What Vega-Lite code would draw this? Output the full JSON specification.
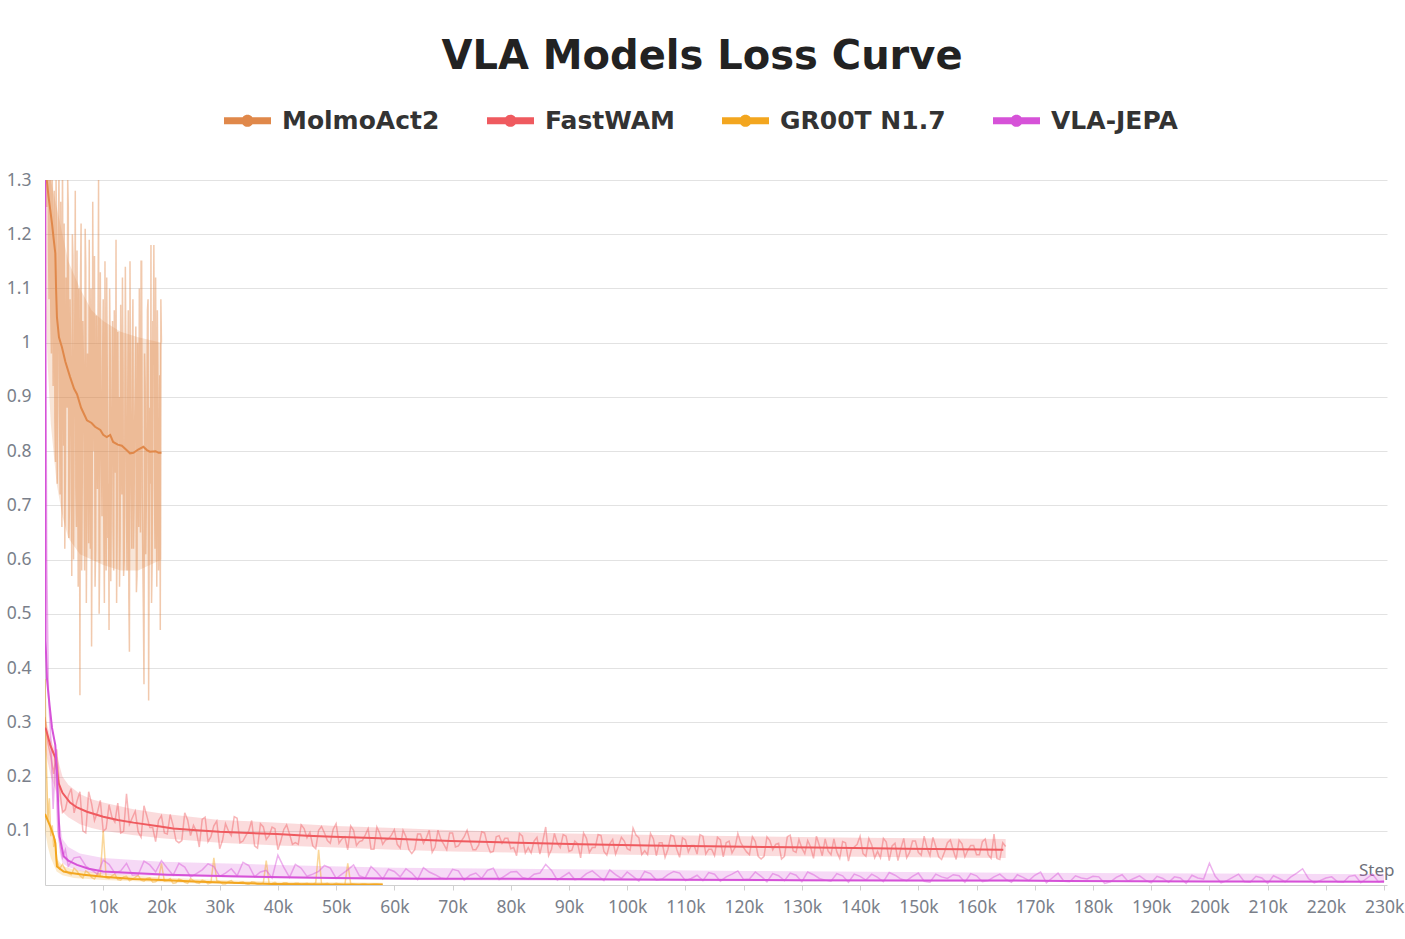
{
  "$schema": "https://vega.github.io/schema/vega-lite/v6.json",
  "width": 1342,
  "height": 705,
  "autosize": {"type": "none"},
  "padding": {"left": 45, "top": 180, "right": 18, "bottom": 54},
  "background": "white",
  "title": {
    "text": "VLA Models Loss Curve",
    "font": "DejaVu Sans",
    "fontSize": 40,
    "fontWeight": "bold",
    "color": "#222222",
    "anchor": "middle",
    "frame": "group",
    "dx": -14,
    "offset": 20
  },
  "config": {
    "view": {"stroke": null},
    "axis": {"labelFont": "Noto Sans", "titleFont": "Noto Sans"}
  },
  "datasets": {
    "band": [
      {"model":"MolmoAct2","step":0,"lo":1.1,"hi":1.3},{"model":"MolmoAct2","step":500,"lo":0.95,"hi":1.3},{"model":"MolmoAct2","step":1000,"lo":0.85,"hi":1.3},{"model":"MolmoAct2","step":2000,"lo":0.74,"hi":1.25},{"model":"MolmoAct2","step":3000,"lo":0.68,"hi":1.2},{"model":"MolmoAct2","step":4000,"lo":0.64,"hi":1.15},{"model":"MolmoAct2","step":6000,"lo":0.61,"hi":1.1},{"model":"MolmoAct2","step":8000,"lo":0.6,"hi":1.06},{"model":"MolmoAct2","step":10000,"lo":0.59,"hi":1.04},{"model":"MolmoAct2","step":13000,"lo":0.58,"hi":1.02},{"model":"MolmoAct2","step":16000,"lo":0.58,"hi":1.01},{"model":"MolmoAct2","step":20000,"lo":0.6,"hi":1.0},
      {"model":"FastWAM","step":0,"lo":0.25,"hi":0.31},{"model":"FastWAM","step":1000,"lo":0.2,"hi":0.27},{"model":"FastWAM","step":2000,"lo":0.17,"hi":0.24},{"model":"FastWAM","step":3000,"lo":0.135,"hi":0.2},{"model":"FastWAM","step":4000,"lo":0.125,"hi":0.185},{"model":"FastWAM","step":6000,"lo":0.112,"hi":0.168},{"model":"FastWAM","step":8000,"lo":0.105,"hi":0.158},{"model":"FastWAM","step":10000,"lo":0.1,"hi":0.152},{"model":"FastWAM","step":15000,"lo":0.092,"hi":0.14},{"model":"FastWAM","step":20000,"lo":0.086,"hi":0.132},
      {"model":"FastWAM","step":30000,"lo":0.078,"hi":0.12},{"model":"FastWAM","step":40000,"lo":0.073,"hi":0.115},{"model":"FastWAM","step":50000,"lo":0.069,"hi":0.109},{"model":"FastWAM","step":60000,"lo":0.065,"hi":0.105},{"model":"FastWAM","step":70000,"lo":0.062,"hi":0.101},{"model":"FastWAM","step":80000,"lo":0.06,"hi":0.098},{"model":"FastWAM","step":90000,"lo":0.058,"hi":0.095},{"model":"FastWAM","step":100000,"lo":0.056,"hi":0.093},{"model":"FastWAM","step":120000,"lo":0.054,"hi":0.09},{"model":"FastWAM","step":140000,"lo":0.052,"hi":0.087},{"model":"FastWAM","step":165000,"lo":0.05,"hi":0.085},
      {"model":"GR00T N1.7","step":0,"lo":0.1,"hi":0.3},{"model":"GR00T N1.7","step":500,"lo":0.07,"hi":0.16},{"model":"GR00T N1.7","step":1000,"lo":0.05,"hi":0.1},{"model":"GR00T N1.7","step":2000,"lo":0.025,"hi":0.05},{"model":"GR00T N1.7","step":3000,"lo":0.018,"hi":0.035},{"model":"GR00T N1.7","step":5000,"lo":0.013,"hi":0.028},{"model":"GR00T N1.7","step":10000,"lo":0.009,"hi":0.021},{"model":"GR00T N1.7","step":20000,"lo":0.005,"hi":0.014},{"model":"GR00T N1.7","step":30000,"lo":0.002,"hi":0.009},{"model":"GR00T N1.7","step":40000,"lo":0.001,"hi":0.006},{"model":"GR00T N1.7","step":58000,"lo":0.0,"hi":0.004},
      {"model":"VLA-JEPA","step":2500,"lo":0.06,"hi":0.12},{"model":"VLA-JEPA","step":3000,"lo":0.04,"hi":0.085},{"model":"VLA-JEPA","step":4000,"lo":0.033,"hi":0.07},{"model":"VLA-JEPA","step":6000,"lo":0.026,"hi":0.058},{"model":"VLA-JEPA","step":10000,"lo":0.02,"hi":0.05},{"model":"VLA-JEPA","step":20000,"lo":0.016,"hi":0.043},{"model":"VLA-JEPA","step":40000,"lo":0.012,"hi":0.037},{"model":"VLA-JEPA","step":60000,"lo":0.009,"hi":0.032},{"model":"VLA-JEPA","step":90000,"lo":0.008,"hi":0.029},{"model":"VLA-JEPA","step":120000,"lo":0.007,"hi":0.026},{"model":"VLA-JEPA","step":160000,"lo":0.006,"hi":0.023},{"model":"VLA-JEPA","step":200000,"lo":0.005,"hi":0.021},{"model":"VLA-JEPA","step":230000,"lo":0.005,"hi":0.02}
    ],
    "raw": [
      {"model":"MolmoAct2","step":0,"loss":1.62},{"model":"MolmoAct2","step":200,"loss":1.38},{"model":"MolmoAct2","step":400,"loss":1.55},{"model":"MolmoAct2","step":600,"loss":1.18},{"model":"MolmoAct2","step":800,"loss":1.42},{"model":"MolmoAct2","step":1000,"loss":1.05},{"model":"MolmoAct2","step":1200,"loss":1.36},{"model":"MolmoAct2","step":1400,"loss":0.92},{"model":"MolmoAct2","step":1600,"loss":1.28},{"model":"MolmoAct2","step":1800,"loss":0.78},
      {"model":"MolmoAct2","step":2000,"loss":1.21},{"model":"MolmoAct2","step":2200,"loss":0.95},{"model":"MolmoAct2","step":2400,"loss":1.33},{"model":"MolmoAct2","step":2600,"loss":0.72},{"model":"MolmoAct2","step":2800,"loss":1.08},{"model":"MolmoAct2","step":3000,"loss":1.35},{"model":"MolmoAct2","step":3200,"loss":0.81},{"model":"MolmoAct2","step":3400,"loss":0.62},{"model":"MolmoAct2","step":3600,"loss":1.12},{"model":"MolmoAct2","step":3800,"loss":0.88},
      {"model":"MolmoAct2","step":4000,"loss":1.25},{"model":"MolmoAct2","step":4200,"loss":0.70},{"model":"MolmoAct2","step":4400,"loss":0.98},{"model":"MolmoAct2","step":4600,"loss":0.57},{"model":"MolmoAct2","step":4800,"loss":1.16},{"model":"MolmoAct2","step":5000,"loss":0.84},{"model":"MolmoAct2","step":5200,"loss":1.28},{"model":"MolmoAct2","step":5400,"loss":0.66},{"model":"MolmoAct2","step":5600,"loss":0.92},{"model":"MolmoAct2","step":5800,"loss":1.10},
      {"model":"MolmoAct2","step":6000,"loss":0.35},{"model":"MolmoAct2","step":6200,"loss":1.22},{"model":"MolmoAct2","step":6400,"loss":0.75},{"model":"MolmoAct2","step":6600,"loss":0.96},{"model":"MolmoAct2","step":6800,"loss":0.58},{"model":"MolmoAct2","step":7000,"loss":1.14},{"model":"MolmoAct2","step":7200,"loss":0.69},{"model":"MolmoAct2","step":7400,"loss":0.90},{"model":"MolmoAct2","step":7600,"loss":1.19},{"model":"MolmoAct2","step":7800,"loss":0.62},
      {"model":"MolmoAct2","step":8000,"loss":0.44},{"model":"MolmoAct2","step":8200,"loss":1.26},{"model":"MolmoAct2","step":8400,"loss":0.80},{"model":"MolmoAct2","step":8600,"loss":0.55},{"model":"MolmoAct2","step":8800,"loss":1.05},{"model":"MolmoAct2","step":9000,"loss":0.73},{"model":"MolmoAct2","step":9200,"loss":1.30},{"model":"MolmoAct2","step":9400,"loss":0.60},{"model":"MolmoAct2","step":9600,"loss":0.94},{"model":"MolmoAct2","step":9800,"loss":0.68},
      {"model":"MolmoAct2","step":10000,"loss":1.08},{"model":"MolmoAct2","step":10200,"loss":0.52},{"model":"MolmoAct2","step":10400,"loss":0.86},{"model":"MolmoAct2","step":10600,"loss":1.12},{"model":"MolmoAct2","step":10800,"loss":0.64},{"model":"MolmoAct2","step":11000,"loss":0.47},{"model":"MolmoAct2","step":11200,"loss":0.99},{"model":"MolmoAct2","step":11400,"loss":0.76},{"model":"MolmoAct2","step":11600,"loss":1.04},{"model":"MolmoAct2","step":11800,"loss":0.58},
      {"model":"MolmoAct2","step":12000,"loss":0.90},{"model":"MolmoAct2","step":12200,"loss":1.19},{"model":"MolmoAct2","step":12400,"loss":0.66},{"model":"MolmoAct2","step":12600,"loss":0.82},{"model":"MolmoAct2","step":12800,"loss":0.55},{"model":"MolmoAct2","step":13000,"loss":1.07},{"model":"MolmoAct2","step":13200,"loss":0.72},{"model":"MolmoAct2","step":13400,"loss":0.95},{"model":"MolmoAct2","step":13600,"loss":0.60},{"model":"MolmoAct2","step":13800,"loss":1.14},
      {"model":"MolmoAct2","step":14000,"loss":0.68},{"model":"MolmoAct2","step":14200,"loss":0.88},{"model":"MolmoAct2","step":14400,"loss":0.53},{"model":"MolmoAct2","step":14600,"loss":1.15},{"model":"MolmoAct2","step":14800,"loss":0.74},{"model":"MolmoAct2","step":15000,"loss":0.98},{"model":"MolmoAct2","step":15200,"loss":0.62},{"model":"MolmoAct2","step":15400,"loss":0.85},{"model":"MolmoAct2","step":15600,"loss":1.03},{"model":"MolmoAct2","step":15800,"loss":0.57},
      {"model":"MolmoAct2","step":16000,"loss":0.79},{"model":"MolmoAct2","step":16200,"loss":1.10},{"model":"MolmoAct2","step":16400,"loss":0.65},{"model":"MolmoAct2","step":16600,"loss":1.15},{"model":"MolmoAct2","step":16800,"loss":0.60},{"model":"MolmoAct2","step":17000,"loss":0.37},{"model":"MolmoAct2","step":17200,"loss":0.92},{"model":"MolmoAct2","step":17400,"loss":0.70},{"model":"MolmoAct2","step":17600,"loss":1.06},{"model":"MolmoAct2","step":17800,"loss":0.34},
      {"model":"MolmoAct2","step":18000,"loss":0.88},{"model":"MolmoAct2","step":18200,"loss":1.18},{"model":"MolmoAct2","step":18400,"loss":0.59},{"model":"MolmoAct2","step":18600,"loss":0.96},{"model":"MolmoAct2","step":18800,"loss":0.73},{"model":"MolmoAct2","step":19000,"loss":1.12},{"model":"MolmoAct2","step":19200,"loss":0.55},{"model":"MolmoAct2","step":19400,"loss":0.90},{"model":"MolmoAct2","step":19600,"loss":0.64},{"model":"MolmoAct2","step":19800,"loss":0.47},{"model":"MolmoAct2","step":20000,"loss":1.0},
      {"model":"MolmoAct2","step":100,"loss":1.45},{"model":"MolmoAct2","step":300,"loss":1.25},{"model":"MolmoAct2","step":500,"loss":1.48},{"model":"MolmoAct2","step":700,"loss":1.08},{"model":"MolmoAct2","step":900,"loss":1.32},{"model":"MolmoAct2","step":1100,"loss":0.98},{"model":"MolmoAct2","step":1300,"loss":1.24},{"model":"MolmoAct2","step":1500,"loss":1.15},{"model":"MolmoAct2","step":1700,"loss":0.86},{"model":"MolmoAct2","step":1900,"loss":1.30},
      {"model":"MolmoAct2","step":2100,"loss":0.74},{"model":"MolmoAct2","step":2300,"loss":1.18},{"model":"MolmoAct2","step":2500,"loss":0.88},{"model":"MolmoAct2","step":2700,"loss":1.26},{"model":"MolmoAct2","step":2900,"loss":0.66},{"model":"MolmoAct2","step":3100,"loss":1.05},{"model":"MolmoAct2","step":3300,"loss":1.22},{"model":"MolmoAct2","step":3500,"loss":0.76},{"model":"MolmoAct2","step":3700,"loss":0.96},{"model":"MolmoAct2","step":3900,"loss":1.30},
      {"model":"MolmoAct2","step":4100,"loss":0.64},{"model":"MolmoAct2","step":4300,"loss":1.08},{"model":"MolmoAct2","step":4500,"loss":0.82},{"model":"MolmoAct2","step":4700,"loss":1.20},{"model":"MolmoAct2","step":4900,"loss":0.60},{"model":"MolmoAct2","step":5100,"loss":1.00},{"model":"MolmoAct2","step":5300,"loss":0.73},{"model":"MolmoAct2","step":5500,"loss":1.17},{"model":"MolmoAct2","step":5700,"loss":0.55},{"model":"MolmoAct2","step":5900,"loss":0.88},
      {"model":"MolmoAct2","step":6100,"loss":1.12},{"model":"MolmoAct2","step":6300,"loss":0.58},{"model":"MolmoAct2","step":6500,"loss":1.04},{"model":"MolmoAct2","step":6700,"loss":0.82},{"model":"MolmoAct2","step":6900,"loss":1.21},{"model":"MolmoAct2","step":7100,"loss":0.52},{"model":"MolmoAct2","step":7300,"loss":0.98},{"model":"MolmoAct2","step":7500,"loss":0.63},{"model":"MolmoAct2","step":7700,"loss":0.86},{"model":"MolmoAct2","step":7900,"loss":1.10},
      {"model":"MolmoAct2","step":8100,"loss":0.70},{"model":"MolmoAct2","step":8300,"loss":0.95},{"model":"MolmoAct2","step":8500,"loss":1.16},{"model":"MolmoAct2","step":8700,"loss":0.62},{"model":"MolmoAct2","step":8900,"loss":0.88},{"model":"MolmoAct2","step":9100,"loss":1.02},{"model":"MolmoAct2","step":9300,"loss":0.50},{"model":"MolmoAct2","step":9500,"loss":1.13},{"model":"MolmoAct2","step":9700,"loss":0.78},{"model":"MolmoAct2","step":9900,"loss":0.97},
      {"model":"MolmoAct2","step":10100,"loss":0.66},{"model":"MolmoAct2","step":10300,"loss":1.15},{"model":"MolmoAct2","step":10500,"loss":0.58},{"model":"MolmoAct2","step":10700,"loss":0.93},{"model":"MolmoAct2","step":10900,"loss":0.74},{"model":"MolmoAct2","step":11100,"loss":1.10},{"model":"MolmoAct2","step":11300,"loss":0.56},{"model":"MolmoAct2","step":11500,"loss":0.90},{"model":"MolmoAct2","step":11700,"loss":0.66},{"model":"MolmoAct2","step":11900,"loss":1.06},
      {"model":"MolmoAct2","step":12100,"loss":0.76},{"model":"MolmoAct2","step":12300,"loss":0.52},{"model":"MolmoAct2","step":12500,"loss":1.02},{"model":"MolmoAct2","step":12700,"loss":0.90},{"model":"MolmoAct2","step":12900,"loss":0.64},{"model":"MolmoAct2","step":13100,"loss":0.85},{"model":"MolmoAct2","step":13300,"loss":1.12},{"model":"MolmoAct2","step":13500,"loss":0.57},{"model":"MolmoAct2","step":13700,"loss":0.80},{"model":"MolmoAct2","step":13900,"loss":0.96},
      {"model":"MolmoAct2","step":14100,"loss":0.58},{"model":"MolmoAct2","step":14300,"loss":1.06},{"model":"MolmoAct2","step":14500,"loss":0.43},{"model":"MolmoAct2","step":14700,"loss":0.88},{"model":"MolmoAct2","step":14900,"loss":0.62},{"model":"MolmoAct2","step":15100,"loss":1.08},{"model":"MolmoAct2","step":15300,"loss":0.70},{"model":"MolmoAct2","step":15500,"loss":0.92},{"model":"MolmoAct2","step":15700,"loss":0.54},{"model":"MolmoAct2","step":15900,"loss":1.00},
      {"model":"MolmoAct2","step":16100,"loss":0.66},{"model":"MolmoAct2","step":16300,"loss":0.84},{"model":"MolmoAct2","step":16500,"loss":1.15},{"model":"MolmoAct2","step":16700,"loss":0.72},{"model":"MolmoAct2","step":16900,"loss":0.50},{"model":"MolmoAct2","step":17100,"loss":0.98},{"model":"MolmoAct2","step":17300,"loss":0.61},{"model":"MolmoAct2","step":17500,"loss":0.86},{"model":"MolmoAct2","step":17700,"loss":1.08},{"model":"MolmoAct2","step":17900,"loss":0.64},
      {"model":"MolmoAct2","step":18100,"loss":0.74},{"model":"MolmoAct2","step":18300,"loss":0.52},{"model":"MolmoAct2","step":18500,"loss":1.04},{"model":"MolmoAct2","step":18700,"loss":1.18},{"model":"MolmoAct2","step":18900,"loss":0.62},{"model":"MolmoAct2","step":19100,"loss":0.84},{"model":"MolmoAct2","step":19300,"loss":1.06},{"model":"MolmoAct2","step":19500,"loss":0.58},{"model":"MolmoAct2","step":19700,"loss":0.94},{"model":"MolmoAct2","step":19900,"loss":1.08},

      {"model":"FastWAM","step":0,"loss":0.31},{"model":"FastWAM","step":500,"loss":0.262},{"model":"FastWAM","step":1000,"loss":0.237},{"model":"FastWAM","step":1500,"loss":0.205},{"model":"FastWAM","step":2000,"loss":0.25},{"model":"FastWAM","step":2500,"loss":0.178},{"model":"FastWAM","step":3000,"loss":0.134},{"model":"FastWAM","step":4000,"loss":0.164},{"model":"FastWAM","step":5000,"loss":0.133},{"model":"FastWAM","step":6000,"loss":0.172},{"model":"FastWAM","step":7000,"loss":0.096},{"model":"FastWAM","step":8000,"loss":0.15},{"model":"FastWAM","step":9000,"loss":0.134},
      {"model":"FastWAM","step":10000,"loss":0.099},{"model":"FastWAM","step":11000,"loss":0.148},{"model":"FastWAM","step":12000,"loss":0.116},{"model":"FastWAM","step":13000,"loss":0.096},{"model":"FastWAM","step":14000,"loss":0.168},{"model":"FastWAM","step":15000,"loss":0.124},{"model":"FastWAM","step":16000,"loss":0.098},{"model":"FastWAM","step":17000,"loss":0.146},{"model":"FastWAM","step":18000,"loss":0.106},{"model":"FastWAM","step":19000,"loss":0.08},
      {"model":"FastWAM","step":20000,"loss":0.128},{"model":"FastWAM","step":21000,"loss":0.094},{"model":"FastWAM","step":22000,"loss":0.11},{"model":"FastWAM","step":23000,"loss":0.078},{"model":"FastWAM","step":24000,"loss":0.133},{"model":"FastWAM","step":25000,"loss":0.091},{"model":"FastWAM","step":26000,"loss":0.099},{"model":"FastWAM","step":27000,"loss":0.121},{"model":"FastWAM","step":28000,"loss":0.08},{"model":"FastWAM","step":29000,"loss":0.109},
      {"model":"FastWAM","step":30000,"loss":0.067},{"model":"FastWAM","step":31000,"loss":0.113},{"model":"FastWAM","step":32000,"loss":0.091},{"model":"FastWAM","step":33000,"loss":0.123},{"model":"FastWAM","step":34000,"loss":0.081},{"model":"FastWAM","step":35000,"loss":0.1},{"model":"FastWAM","step":36000,"loss":0.072},{"model":"FastWAM","step":37000,"loss":0.113},{"model":"FastWAM","step":38000,"loss":0.084},{"model":"FastWAM","step":39000,"loss":0.107},
      {"model":"FastWAM","step":40000,"loss":0.065},{"model":"FastWAM","step":41000,"loss":0.102},{"model":"FastWAM","step":42000,"loss":0.094},{"model":"FastWAM","step":43000,"loss":0.078},{"model":"FastWAM","step":44000,"loss":0.111},{"model":"FastWAM","step":45000,"loss":0.087},{"model":"FastWAM","step":46000,"loss":0.072},{"model":"FastWAM","step":47000,"loss":0.101},{"model":"FastWAM","step":48000,"loss":0.096},{"model":"FastWAM","step":49000,"loss":0.077},
      {"model":"FastWAM","step":50000,"loss":0.113},{"model":"FastWAM","step":51000,"loss":0.085},{"model":"FastWAM","step":52000,"loss":0.065},{"model":"FastWAM","step":53000,"loss":0.101},{"model":"FastWAM","step":54000,"loss":0.08},{"model":"FastWAM","step":55000,"loss":0.092},{"model":"FastWAM","step":56000,"loss":0.066},{"model":"FastWAM","step":57000,"loss":0.107},{"model":"FastWAM","step":58000,"loss":0.075},{"model":"FastWAM","step":59000,"loss":0.085},
      {"model":"FastWAM","step":60000,"loss":0.102},{"model":"FastWAM","step":61000,"loss":0.068},{"model":"FastWAM","step":62000,"loss":0.089},{"model":"FastWAM","step":63000,"loss":0.058},{"model":"FastWAM","step":64000,"loss":0.094},{"model":"FastWAM","step":65000,"loss":0.077},{"model":"FastWAM","step":66000,"loss":0.101},{"model":"FastWAM","step":67000,"loss":0.07},{"model":"FastWAM","step":68000,"loss":0.084},{"model":"FastWAM","step":69000,"loss":0.065},
      {"model":"FastWAM","step":70000,"loss":0.096},{"model":"FastWAM","step":71000,"loss":0.072},{"model":"FastWAM","step":72000,"loss":0.089},{"model":"FastWAM","step":73000,"loss":0.081},{"model":"FastWAM","step":74000,"loss":0.065},{"model":"FastWAM","step":75000,"loss":0.098},{"model":"FastWAM","step":76000,"loss":0.074},{"model":"FastWAM","step":77000,"loss":0.062},{"model":"FastWAM","step":78000,"loss":0.091},{"model":"FastWAM","step":79000,"loss":0.086},
      {"model":"FastWAM","step":80000,"loss":0.067},{"model":"FastWAM","step":81000,"loss":0.054},{"model":"FastWAM","step":82000,"loss":0.09},{"model":"FastWAM","step":83000,"loss":0.069},{"model":"FastWAM","step":84000,"loss":0.081},{"model":"FastWAM","step":85000,"loss":0.057},{"model":"FastWAM","step":86000,"loss":0.107},{"model":"FastWAM","step":87000,"loss":0.066},{"model":"FastWAM","step":88000,"loss":0.077},{"model":"FastWAM","step":89000,"loss":0.093},
      {"model":"FastWAM","step":90000,"loss":0.062},{"model":"FastWAM","step":91000,"loss":0.081},{"model":"FastWAM","step":92000,"loss":0.05},{"model":"FastWAM","step":93000,"loss":0.086},{"model":"FastWAM","step":94000,"loss":0.069},{"model":"FastWAM","step":95000,"loss":0.093},{"model":"FastWAM","step":96000,"loss":0.062},{"model":"FastWAM","step":97000,"loss":0.076},{"model":"FastWAM","step":98000,"loss":0.057},{"model":"FastWAM","step":99000,"loss":0.088},
      {"model":"FastWAM","step":100000,"loss":0.067},{"model":"FastWAM","step":101000,"loss":0.105},{"model":"FastWAM","step":102000,"loss":0.087},{"model":"FastWAM","step":103000,"loss":0.063},{"model":"FastWAM","step":104000,"loss":0.095},{"model":"FastWAM","step":105000,"loss":0.054},{"model":"FastWAM","step":106000,"loss":0.078},{"model":"FastWAM","step":107000,"loss":0.066},{"model":"FastWAM","step":108000,"loss":0.09},{"model":"FastWAM","step":109000,"loss":0.051},
      {"model":"FastWAM","step":110000,"loss":0.083},{"model":"FastWAM","step":111000,"loss":0.073},{"model":"FastWAM","step":112000,"loss":0.057},{"model":"FastWAM","step":113000,"loss":0.09},{"model":"FastWAM","step":114000,"loss":0.066},{"model":"FastWAM","step":115000,"loss":0.054},{"model":"FastWAM","step":116000,"loss":0.083},{"model":"FastWAM","step":117000,"loss":0.078},{"model":"FastWAM","step":118000,"loss":0.059},{"model":"FastWAM","step":119000,"loss":0.095},
      {"model":"FastWAM","step":120000,"loss":0.069},{"model":"FastWAM","step":121000,"loss":0.056},{"model":"FastWAM","step":122000,"loss":0.08},{"model":"FastWAM","step":123000,"loss":0.048},{"model":"FastWAM","step":124000,"loss":0.089},{"model":"FastWAM","step":125000,"loss":0.065},{"model":"FastWAM","step":126000,"loss":0.077},{"model":"FastWAM","step":127000,"loss":0.053},{"model":"FastWAM","step":128000,"loss":0.092},{"model":"FastWAM","step":129000,"loss":0.06},
      {"model":"FastWAM","step":130000,"loss":0.068},{"model":"FastWAM","step":131000,"loss":0.082},{"model":"FastWAM","step":132000,"loss":0.049},{"model":"FastWAM","step":133000,"loss":0.073},{"model":"FastWAM","step":134000,"loss":0.085},{"model":"FastWAM","step":135000,"loss":0.056},{"model":"FastWAM","step":136000,"loss":0.061},{"model":"FastWAM","step":137000,"loss":0.08},{"model":"FastWAM","step":138000,"loss":0.044},{"model":"FastWAM","step":139000,"loss":0.07},
      {"model":"FastWAM","step":140000,"loss":0.09},{"model":"FastWAM","step":141000,"loss":0.053},{"model":"FastWAM","step":142000,"loss":0.074},{"model":"FastWAM","step":143000,"loss":0.062},{"model":"FastWAM","step":144000,"loss":0.086},{"model":"FastWAM","step":145000,"loss":0.045},{"model":"FastWAM","step":146000,"loss":0.077},{"model":"FastWAM","step":147000,"loss":0.067},{"model":"FastWAM","step":148000,"loss":0.05},{"model":"FastWAM","step":149000,"loss":0.081},
      {"model":"FastWAM","step":150000,"loss":0.06},{"model":"FastWAM","step":151000,"loss":0.09},{"model":"FastWAM","step":152000,"loss":0.054},{"model":"FastWAM","step":153000,"loss":0.071},{"model":"FastWAM","step":154000,"loss":0.047},{"model":"FastWAM","step":155000,"loss":0.078},{"model":"FastWAM","step":156000,"loss":0.064},{"model":"FastWAM","step":157000,"loss":0.083},{"model":"FastWAM","step":158000,"loss":0.052},{"model":"FastWAM","step":159000,"loss":0.073},
      {"model":"FastWAM","step":160000,"loss":0.056},{"model":"FastWAM","step":161000,"loss":0.08},{"model":"FastWAM","step":162000,"loss":0.056},{"model":"FastWAM","step":163000,"loss":0.094},{"model":"FastWAM","step":164000,"loss":0.047},{"model":"FastWAM","step":165000,"loss":0.071},
      {"model":"FastWAM","step":3500,"loss":0.139},{"model":"FastWAM","step":4500,"loss":0.178},{"model":"FastWAM","step":5500,"loss":0.155},{"model":"FastWAM","step":6500,"loss":0.1},{"model":"FastWAM","step":7500,"loss":0.172},{"model":"FastWAM","step":8500,"loss":0.119},{"model":"FastWAM","step":9500,"loss":0.156},{"model":"FastWAM","step":10500,"loss":0.104},{"model":"FastWAM","step":11500,"loss":0.125},{"model":"FastWAM","step":12500,"loss":0.151},
      {"model":"FastWAM","step":13500,"loss":0.099},{"model":"FastWAM","step":14500,"loss":0.112},{"model":"FastWAM","step":15500,"loss":0.136},{"model":"FastWAM","step":16500,"loss":0.088},{"model":"FastWAM","step":17500,"loss":0.127},{"model":"FastWAM","step":18500,"loss":0.106},{"model":"FastWAM","step":19500,"loss":0.119},{"model":"FastWAM","step":20500,"loss":0.096},{"model":"FastWAM","step":21500,"loss":0.13},{"model":"FastWAM","step":22500,"loss":0.082},
      {"model":"FastWAM","step":23500,"loss":0.082},{"model":"FastWAM","step":24500,"loss":0.12},{"model":"FastWAM","step":25500,"loss":0.11},{"model":"FastWAM","step":26500,"loss":0.07},{"model":"FastWAM","step":27500,"loss":0.125},{"model":"FastWAM","step":28500,"loss":0.089},{"model":"FastWAM","step":29500,"loss":0.118},{"model":"FastWAM","step":30500,"loss":0.083},{"model":"FastWAM","step":31500,"loss":0.1},{"model":"FastWAM","step":32500,"loss":0.126},
      {"model":"FastWAM","step":33500,"loss":0.078},{"model":"FastWAM","step":34500,"loss":0.091},{"model":"FastWAM","step":35500,"loss":0.119},{"model":"FastWAM","step":36500,"loss":0.068},{"model":"FastWAM","step":37500,"loss":0.107},{"model":"FastWAM","step":38500,"loss":0.091},{"model":"FastWAM","step":39500,"loss":0.104},{"model":"FastWAM","step":40500,"loss":0.081},{"model":"FastWAM","step":41500,"loss":0.111},{"model":"FastWAM","step":42500,"loss":0.075},
      {"model":"FastWAM","step":43500,"loss":0.075},{"model":"FastWAM","step":44500,"loss":0.104},{"model":"FastWAM","step":45500,"loss":0.097},{"model":"FastWAM","step":46500,"loss":0.067},{"model":"FastWAM","step":47500,"loss":0.108},{"model":"FastWAM","step":48500,"loss":0.082},{"model":"FastWAM","step":49500,"loss":0.103},{"model":"FastWAM","step":50500,"loss":0.077},{"model":"FastWAM","step":51500,"loss":0.089},{"model":"FastWAM","step":52500,"loss":0.109},
      {"model":"FastWAM","step":53500,"loss":0.073},{"model":"FastWAM","step":54500,"loss":0.082},{"model":"FastWAM","step":55500,"loss":0.104},{"model":"FastWAM","step":56500,"loss":0.066},{"model":"FastWAM","step":57500,"loss":0.095},{"model":"FastWAM","step":58500,"loss":0.083},{"model":"FastWAM","step":59500,"loss":0.092},{"model":"FastWAM","step":60500,"loss":0.075},{"model":"FastWAM","step":61500,"loss":0.101},{"model":"FastWAM","step":62500,"loss":0.065},
      {"model":"FastWAM","step":63500,"loss":0.065},{"model":"FastWAM","step":64500,"loss":0.094},{"model":"FastWAM","step":65500,"loss":0.087},{"model":"FastWAM","step":66500,"loss":0.06},{"model":"FastWAM","step":67500,"loss":0.101},{"model":"FastWAM","step":68500,"loss":0.075},{"model":"FastWAM","step":69500,"loss":0.096},{"model":"FastWAM","step":70500,"loss":0.07},{"model":"FastWAM","step":71500,"loss":0.081},{"model":"FastWAM","step":72500,"loss":0.101},
      {"model":"FastWAM","step":73500,"loss":0.065},{"model":"FastWAM","step":74500,"loss":0.074},{"model":"FastWAM","step":75500,"loss":0.096},{"model":"FastWAM","step":76500,"loss":0.06},{"model":"FastWAM","step":77500,"loss":0.089},{"model":"FastWAM","step":78500,"loss":0.077},{"model":"FastWAM","step":79500,"loss":0.086},{"model":"FastWAM","step":80500,"loss":0.069},{"model":"FastWAM","step":81500,"loss":0.095},{"model":"FastWAM","step":82500,"loss":0.059},
      {"model":"FastWAM","step":83500,"loss":0.059},{"model":"FastWAM","step":84500,"loss":0.088},{"model":"FastWAM","step":85500,"loss":0.081},{"model":"FastWAM","step":86500,"loss":0.054},{"model":"FastWAM","step":87500,"loss":0.095},{"model":"FastWAM","step":88500,"loss":0.069},{"model":"FastWAM","step":89500,"loss":0.09},{"model":"FastWAM","step":90500,"loss":0.064},{"model":"FastWAM","step":91500,"loss":0.076},{"model":"FastWAM","step":92500,"loss":0.096},
      {"model":"FastWAM","step":93500,"loss":0.06},{"model":"FastWAM","step":94500,"loss":0.069},{"model":"FastWAM","step":95500,"loss":0.091},{"model":"FastWAM","step":96500,"loss":0.055},{"model":"FastWAM","step":97500,"loss":0.084},{"model":"FastWAM","step":98500,"loss":0.072},{"model":"FastWAM","step":99500,"loss":0.081},{"model":"FastWAM","step":100500,"loss":0.064},{"model":"FastWAM","step":101500,"loss":0.092},{"model":"FastWAM","step":102500,"loss":0.056},
      {"model":"FastWAM","step":103500,"loss":0.056},{"model":"FastWAM","step":104500,"loss":0.085},{"model":"FastWAM","step":105500,"loss":0.078},{"model":"FastWAM","step":106500,"loss":0.051},{"model":"FastWAM","step":107500,"loss":0.092},{"model":"FastWAM","step":108500,"loss":0.066},{"model":"FastWAM","step":109500,"loss":0.087},{"model":"FastWAM","step":110500,"loss":0.061},{"model":"FastWAM","step":111500,"loss":0.073},{"model":"FastWAM","step":112500,"loss":0.093},
      {"model":"FastWAM","step":113500,"loss":0.057},{"model":"FastWAM","step":114500,"loss":0.066},{"model":"FastWAM","step":115500,"loss":0.088},{"model":"FastWAM","step":116500,"loss":0.052},{"model":"FastWAM","step":117500,"loss":0.081},{"model":"FastWAM","step":118500,"loss":0.069},{"model":"FastWAM","step":119500,"loss":0.078},{"model":"FastWAM","step":120500,"loss":0.061},{"model":"FastWAM","step":121500,"loss":0.089},{"model":"FastWAM","step":122500,"loss":0.053},
      {"model":"FastWAM","step":123500,"loss":0.053},{"model":"FastWAM","step":124500,"loss":0.082},{"model":"FastWAM","step":125500,"loss":0.075},{"model":"FastWAM","step":126500,"loss":0.048},{"model":"FastWAM","step":127500,"loss":0.089},{"model":"FastWAM","step":128500,"loss":0.063},{"model":"FastWAM","step":129500,"loss":0.084},{"model":"FastWAM","step":130500,"loss":0.058},{"model":"FastWAM","step":131500,"loss":0.07},{"model":"FastWAM","step":132500,"loss":0.09},
      {"model":"FastWAM","step":133500,"loss":0.054},{"model":"FastWAM","step":134500,"loss":0.063},{"model":"FastWAM","step":135500,"loss":0.085},{"model":"FastWAM","step":136500,"loss":0.049},{"model":"FastWAM","step":137500,"loss":0.078},{"model":"FastWAM","step":138500,"loss":0.066},{"model":"FastWAM","step":139500,"loss":0.075},{"model":"FastWAM","step":140500,"loss":0.058},{"model":"FastWAM","step":141500,"loss":0.086},{"model":"FastWAM","step":142500,"loss":0.05},
      {"model":"FastWAM","step":143500,"loss":0.05},{"model":"FastWAM","step":144500,"loss":0.079},{"model":"FastWAM","step":145500,"loss":0.072},{"model":"FastWAM","step":146500,"loss":0.045},{"model":"FastWAM","step":147500,"loss":0.086},{"model":"FastWAM","step":148500,"loss":0.06},{"model":"FastWAM","step":149500,"loss":0.081},{"model":"FastWAM","step":150500,"loss":0.055},{"model":"FastWAM","step":151500,"loss":0.068},{"model":"FastWAM","step":152500,"loss":0.088},
      {"model":"FastWAM","step":153500,"loss":0.052},{"model":"FastWAM","step":154500,"loss":0.061},{"model":"FastWAM","step":155500,"loss":0.083},{"model":"FastWAM","step":156500,"loss":0.047},{"model":"FastWAM","step":157500,"loss":0.076},{"model":"FastWAM","step":158500,"loss":0.064},{"model":"FastWAM","step":159500,"loss":0.073},{"model":"FastWAM","step":160500,"loss":0.056},{"model":"FastWAM","step":161500,"loss":0.085},{"model":"FastWAM","step":162500,"loss":0.049},
      {"model":"FastWAM","step":163500,"loss":0.049},{"model":"FastWAM","step":164500,"loss":0.078},

      {"model":"GR00T N1.7","step":0,"loss":0.38},{"model":"GR00T N1.7","step":250,"loss":0.22},{"model":"GR00T N1.7","step":500,"loss":0.12},{"model":"GR00T N1.7","step":750,"loss":0.16},{"model":"GR00T N1.7","step":1000,"loss":0.09},{"model":"GR00T N1.7","step":1250,"loss":0.11},{"model":"GR00T N1.7","step":1500,"loss":0.07},{"model":"GR00T N1.7","step":1750,"loss":0.085},{"model":"GR00T N1.7","step":2000,"loss":0.045},{"model":"GR00T N1.7","step":2500,"loss":0.03},{"model":"GR00T N1.7","step":3000,"loss":0.038},
      {"model":"GR00T N1.7","step":4000,"loss":0.022},{"model":"GR00T N1.7","step":5000,"loss":0.031},{"model":"GR00T N1.7","step":6000,"loss":0.017},{"model":"GR00T N1.7","step":7000,"loss":0.026},{"model":"GR00T N1.7","step":8000,"loss":0.014},{"model":"GR00T N1.7","step":9000,"loss":0.021},{"model":"GR00T N1.7","step":10000,"loss":0.1},{"model":"GR00T N1.7","step":11000,"loss":0.012},{"model":"GR00T N1.7","step":12000,"loss":0.02},{"model":"GR00T N1.7","step":13000,"loss":0.009},
      {"model":"GR00T N1.7","step":14000,"loss":0.016},{"model":"GR00T N1.7","step":15000,"loss":0.011},{"model":"GR00T N1.7","step":16000,"loss":0.018},{"model":"GR00T N1.7","step":17000,"loss":0.007},{"model":"GR00T N1.7","step":18000,"loss":0.013},{"model":"GR00T N1.7","step":19000,"loss":0.006},{"model":"GR00T N1.7","step":20000,"loss":0.04},{"model":"GR00T N1.7","step":21000,"loss":0.008},{"model":"GR00T N1.7","step":22000,"loss":0.003},{"model":"GR00T N1.7","step":23000,"loss":0.011},
      {"model":"GR00T N1.7","step":24000,"loss":0.005},{"model":"GR00T N1.7","step":25000,"loss":0.012},{"model":"GR00T N1.7","step":26000,"loss":0.004},{"model":"GR00T N1.7","step":27000,"loss":0.009},{"model":"GR00T N1.7","step":28000,"loss":0.002},{"model":"GR00T N1.7","step":29000,"loss":0.05},{"model":"GR00T N1.7","step":30000,"loss":0.006},{"model":"GR00T N1.7","step":31000,"loss":0.002},{"model":"GR00T N1.7","step":32000,"loss":0.008},{"model":"GR00T N1.7","step":33000,"loss":0.003},
      {"model":"GR00T N1.7","step":34000,"loss":0.006},{"model":"GR00T N1.7","step":35000,"loss":0.001},{"model":"GR00T N1.7","step":36000,"loss":0.005},{"model":"GR00T N1.7","step":37000,"loss":0.002},{"model":"GR00T N1.7","step":38000,"loss":0.045},{"model":"GR00T N1.7","step":39000,"loss":0.003},{"model":"GR00T N1.7","step":40000,"loss":0.001},{"model":"GR00T N1.7","step":41000,"loss":0.004},{"model":"GR00T N1.7","step":42000,"loss":0.001},{"model":"GR00T N1.7","step":43000,"loss":0.003},
      {"model":"GR00T N1.7","step":44000,"loss":0.0},{"model":"GR00T N1.7","step":45000,"loss":0.003},{"model":"GR00T N1.7","step":46000,"loss":0.001},{"model":"GR00T N1.7","step":47000,"loss":0.065},{"model":"GR00T N1.7","step":48000,"loss":0.002},{"model":"GR00T N1.7","step":49000,"loss":0.0},{"model":"GR00T N1.7","step":50000,"loss":0.003},{"model":"GR00T N1.7","step":51000,"loss":0.001},{"model":"GR00T N1.7","step":52000,"loss":0.04},{"model":"GR00T N1.7","step":53000,"loss":0.002},
      {"model":"GR00T N1.7","step":54000,"loss":0.0},{"model":"GR00T N1.7","step":55000,"loss":0.002},{"model":"GR00T N1.7","step":56000,"loss":0.001},{"model":"GR00T N1.7","step":57000,"loss":0.002},{"model":"GR00T N1.7","step":58000,"loss":0.001},
      {"model":"GR00T N1.7","step":3500,"loss":0.028},{"model":"GR00T N1.7","step":4500,"loss":0.019},{"model":"GR00T N1.7","step":5500,"loss":0.026},{"model":"GR00T N1.7","step":6500,"loss":0.013},{"model":"GR00T N1.7","step":7500,"loss":0.022},{"model":"GR00T N1.7","step":8500,"loss":0.011},{"model":"GR00T N1.7","step":9500,"loss":0.018},{"model":"GR00T N1.7","step":10500,"loss":0.013},{"model":"GR00T N1.7","step":11500,"loss":0.017},{"model":"GR00T N1.7","step":12500,"loss":0.01},
      {"model":"GR00T N1.7","step":13500,"loss":0.015},{"model":"GR00T N1.7","step":14500,"loss":0.008},{"model":"GR00T N1.7","step":15500,"loss":0.014},{"model":"GR00T N1.7","step":16500,"loss":0.009},{"model":"GR00T N1.7","step":17500,"loss":0.012},{"model":"GR00T N1.7","step":18500,"loss":0.005},{"model":"GR00T N1.7","step":19500,"loss":0.011},{"model":"GR00T N1.7","step":20500,"loss":0.007},{"model":"GR00T N1.7","step":21500,"loss":0.012},{"model":"GR00T N1.7","step":22500,"loss":0.004},
      {"model":"GR00T N1.7","step":23500,"loss":0.009},{"model":"GR00T N1.7","step":24500,"loss":0.003},{"model":"GR00T N1.7","step":25500,"loss":0.008},{"model":"GR00T N1.7","step":26500,"loss":0.003},{"model":"GR00T N1.7","step":27500,"loss":0.007},{"model":"GR00T N1.7","step":28500,"loss":0.004},{"model":"GR00T N1.7","step":29500,"loss":0.008},{"model":"GR00T N1.7","step":30500,"loss":0.002},{"model":"GR00T N1.7","step":31500,"loss":0.006},{"model":"GR00T N1.7","step":32500,"loss":0.003},
      {"model":"GR00T N1.7","step":33500,"loss":0.005},{"model":"GR00T N1.7","step":34500,"loss":0.002},{"model":"GR00T N1.7","step":35500,"loss":0.006},{"model":"GR00T N1.7","step":36500,"loss":0.001},{"model":"GR00T N1.7","step":37500,"loss":0.004},{"model":"GR00T N1.7","step":38500,"loss":0.002},{"model":"GR00T N1.7","step":39500,"loss":0.005},{"model":"GR00T N1.7","step":40500,"loss":0.001},{"model":"GR00T N1.7","step":41500,"loss":0.004},{"model":"GR00T N1.7","step":42500,"loss":0.001},
      {"model":"GR00T N1.7","step":43500,"loss":0.003},{"model":"GR00T N1.7","step":44500,"loss":0.002},{"model":"GR00T N1.7","step":45500,"loss":0.001},{"model":"GR00T N1.7","step":46500,"loss":0.004},{"model":"GR00T N1.7","step":47500,"loss":0.001},{"model":"GR00T N1.7","step":48500,"loss":0.003},{"model":"GR00T N1.7","step":49500,"loss":0.001},{"model":"GR00T N1.7","step":50500,"loss":0.002},{"model":"GR00T N1.7","step":51500,"loss":0.0},{"model":"GR00T N1.7","step":52500,"loss":0.003},
      {"model":"GR00T N1.7","step":53500,"loss":0.001},{"model":"GR00T N1.7","step":54500,"loss":0.002},{"model":"GR00T N1.7","step":55500,"loss":0.0},{"model":"GR00T N1.7","step":56500,"loss":0.002},{"model":"GR00T N1.7","step":57500,"loss":0.001},

      {"model":"VLA-JEPA","step":0,"loss":2.0},{"model":"VLA-JEPA","step":100,"loss":1.1},{"model":"VLA-JEPA","step":300,"loss":0.6},{"model":"VLA-JEPA","step":600,"loss":0.35},{"model":"VLA-JEPA","step":1000,"loss":0.27},{"model":"VLA-JEPA","step":1400,"loss":0.14},{"model":"VLA-JEPA","step":1800,"loss":0.24},{"model":"VLA-JEPA","step":2200,"loss":0.10},{"model":"VLA-JEPA","step":2600,"loss":0.07},{"model":"VLA-JEPA","step":3000,"loss":0.05},{"model":"VLA-JEPA","step":3500,"loss":0.065},{"model":"VLA-JEPA","step":4000,"loss":0.035},{"model":"VLA-JEPA","step":5000,"loss":0.05},
      {"model":"VLA-JEPA","step":6000,"loss":0.052},{"model":"VLA-JEPA","step":8000,"loss":0.028},{"model":"VLA-JEPA","step":10000,"loss":0.046},{"model":"VLA-JEPA","step":12000,"loss":0.022},{"model":"VLA-JEPA","step":14000,"loss":0.04},{"model":"VLA-JEPA","step":16000,"loss":0.019},{"model":"VLA-JEPA","step":18000,"loss":0.037},{"model":"VLA-JEPA","step":20000,"loss":0.045},{"model":"VLA-JEPA","step":22000,"loss":0.018},{"model":"VLA-JEPA","step":24000,"loss":0.033},
      {"model":"VLA-JEPA","step":26000,"loss":0.021},{"model":"VLA-JEPA","step":28000,"loss":0.039},{"model":"VLA-JEPA","step":30000,"loss":0.016},{"model":"VLA-JEPA","step":32000,"loss":0.03},{"model":"VLA-JEPA","step":34000,"loss":0.042},{"model":"VLA-JEPA","step":36000,"loss":0.015},{"model":"VLA-JEPA","step":38000,"loss":0.027},{"model":"VLA-JEPA","step":40000,"loss":0.055},{"model":"VLA-JEPA","step":42000,"loss":0.014},{"model":"VLA-JEPA","step":44000,"loss":0.031},
      {"model":"VLA-JEPA","step":46000,"loss":0.02},{"model":"VLA-JEPA","step":48000,"loss":0.036},{"model":"VLA-JEPA","step":50000,"loss":0.012},{"model":"VLA-JEPA","step":52000,"loss":0.028},{"model":"VLA-JEPA","step":54000,"loss":0.017},{"model":"VLA-JEPA","step":56000,"loss":0.034},{"model":"VLA-JEPA","step":58000,"loss":0.011},{"model":"VLA-JEPA","step":60000,"loss":0.025},{"model":"VLA-JEPA","step":62000,"loss":0.03},{"model":"VLA-JEPA","step":64000,"loss":0.01},
      {"model":"VLA-JEPA","step":66000,"loss":0.024},{"model":"VLA-JEPA","step":68000,"loss":0.013},{"model":"VLA-JEPA","step":70000,"loss":0.029},{"model":"VLA-JEPA","step":72000,"loss":0.009},{"model":"VLA-JEPA","step":74000,"loss":0.022},{"model":"VLA-JEPA","step":76000,"loss":0.027},{"model":"VLA-JEPA","step":78000,"loss":0.01},{"model":"VLA-JEPA","step":80000,"loss":0.024},{"model":"VLA-JEPA","step":82000,"loss":0.014},{"model":"VLA-JEPA","step":84000,"loss":0.02},
      {"model":"VLA-JEPA","step":86000,"loss":0.038},{"model":"VLA-JEPA","step":88000,"loss":0.009},{"model":"VLA-JEPA","step":90000,"loss":0.023},{"model":"VLA-JEPA","step":92000,"loss":0.012},{"model":"VLA-JEPA","step":94000,"loss":0.026},{"model":"VLA-JEPA","step":96000,"loss":0.008},{"model":"VLA-JEPA","step":98000,"loss":0.019},{"model":"VLA-JEPA","step":100000,"loss":0.024},{"model":"VLA-JEPA","step":102000,"loss":0.007},{"model":"VLA-JEPA","step":104000,"loss":0.021},
      {"model":"VLA-JEPA","step":106000,"loss":0.011},{"model":"VLA-JEPA","step":108000,"loss":0.025},{"model":"VLA-JEPA","step":110000,"loss":0.008},{"model":"VLA-JEPA","step":112000,"loss":0.018},{"model":"VLA-JEPA","step":114000,"loss":0.023},{"model":"VLA-JEPA","step":116000,"loss":0.007},{"model":"VLA-JEPA","step":118000,"loss":0.02},{"model":"VLA-JEPA","step":120000,"loss":0.01},{"model":"VLA-JEPA","step":122000,"loss":0.024},{"model":"VLA-JEPA","step":124000,"loss":0.006},
      {"model":"VLA-JEPA","step":126000,"loss":0.017},{"model":"VLA-JEPA","step":128000,"loss":0.022},{"model":"VLA-JEPA","step":130000,"loss":0.006},{"model":"VLA-JEPA","step":132000,"loss":0.019},{"model":"VLA-JEPA","step":134000,"loss":0.009},{"model":"VLA-JEPA","step":136000,"loss":0.021},{"model":"VLA-JEPA","step":138000,"loss":0.005},{"model":"VLA-JEPA","step":140000,"loss":0.016},{"model":"VLA-JEPA","step":142000,"loss":0.02},{"model":"VLA-JEPA","step":144000,"loss":0.006},
      {"model":"VLA-JEPA","step":146000,"loss":0.018},{"model":"VLA-JEPA","step":148000,"loss":0.008},{"model":"VLA-JEPA","step":150000,"loss":0.022},{"model":"VLA-JEPA","step":152000,"loss":0.005},{"model":"VLA-JEPA","step":154000,"loss":0.015},{"model":"VLA-JEPA","step":156000,"loss":0.019},{"model":"VLA-JEPA","step":158000,"loss":0.005},{"model":"VLA-JEPA","step":160000,"loss":0.017},{"model":"VLA-JEPA","step":162000,"loss":0.008},{"model":"VLA-JEPA","step":164000,"loss":0.02},
      {"model":"VLA-JEPA","step":166000,"loss":0.005},{"model":"VLA-JEPA","step":168000,"loss":0.014},{"model":"VLA-JEPA","step":170000,"loss":0.018},{"model":"VLA-JEPA","step":172000,"loss":0.004},{"model":"VLA-JEPA","step":174000,"loss":0.022},{"model":"VLA-JEPA","step":176000,"loss":0.006},{"model":"VLA-JEPA","step":178000,"loss":0.013},{"model":"VLA-JEPA","step":180000,"loss":0.016},{"model":"VLA-JEPA","step":182000,"loss":0.003},{"model":"VLA-JEPA","step":184000,"loss":0.014},
      {"model":"VLA-JEPA","step":186000,"loss":0.007},{"model":"VLA-JEPA","step":188000,"loss":0.017},{"model":"VLA-JEPA","step":190000,"loss":0.004},{"model":"VLA-JEPA","step":192000,"loss":0.012},{"model":"VLA-JEPA","step":194000,"loss":0.015},{"model":"VLA-JEPA","step":196000,"loss":0.003},{"model":"VLA-JEPA","step":198000,"loss":0.013},{"model":"VLA-JEPA","step":200000,"loss":0.04},{"model":"VLA-JEPA","step":202000,"loss":0.004},{"model":"VLA-JEPA","step":204000,"loss":0.014},
      {"model":"VLA-JEPA","step":206000,"loss":0.006},{"model":"VLA-JEPA","step":208000,"loss":0.016},{"model":"VLA-JEPA","step":210000,"loss":0.003},{"model":"VLA-JEPA","step":212000,"loss":0.012},{"model":"VLA-JEPA","step":214000,"loss":0.015},{"model":"VLA-JEPA","step":216000,"loss":0.03},{"model":"VLA-JEPA","step":218000,"loss":0.004},{"model":"VLA-JEPA","step":220000,"loss":0.013},{"model":"VLA-JEPA","step":222000,"loss":0.006},{"model":"VLA-JEPA","step":224000,"loss":0.016},
      {"model":"VLA-JEPA","step":226000,"loss":0.004},{"model":"VLA-JEPA","step":228000,"loss":0.02},{"model":"VLA-JEPA","step":230000,"loss":0.008},
      {"model":"VLA-JEPA","step":7000,"loss":0.035},{"model":"VLA-JEPA","step":9000,"loss":0.02},{"model":"VLA-JEPA","step":11000,"loss":0.038},{"model":"VLA-JEPA","step":13000,"loss":0.026},{"model":"VLA-JEPA","step":15000,"loss":0.018},{"model":"VLA-JEPA","step":17000,"loss":0.044},{"model":"VLA-JEPA","step":19000,"loss":0.024},{"model":"VLA-JEPA","step":21000,"loss":0.031},{"model":"VLA-JEPA","step":23000,"loss":0.04},{"model":"VLA-JEPA","step":25000,"loss":0.015},
      {"model":"VLA-JEPA","step":27000,"loss":0.028},{"model":"VLA-JEPA","step":29000,"loss":0.034},{"model":"VLA-JEPA","step":31000,"loss":0.022},{"model":"VLA-JEPA","step":33000,"loss":0.017},{"model":"VLA-JEPA","step":35000,"loss":0.036},{"model":"VLA-JEPA","step":37000,"loss":0.024},{"model":"VLA-JEPA","step":39000,"loss":0.013},{"model":"VLA-JEPA","step":41000,"loss":0.033},{"model":"VLA-JEPA","step":43000,"loss":0.038},{"model":"VLA-JEPA","step":45000,"loss":0.016},
      {"model":"VLA-JEPA","step":47000,"loss":0.025},{"model":"VLA-JEPA","step":49000,"loss":0.031},{"model":"VLA-JEPA","step":51000,"loss":0.02},{"model":"VLA-JEPA","step":53000,"loss":0.037},{"model":"VLA-JEPA","step":55000,"loss":0.013},{"model":"VLA-JEPA","step":57000,"loss":0.024},{"model":"VLA-JEPA","step":59000,"loss":0.029},{"model":"VLA-JEPA","step":61000,"loss":0.015},{"model":"VLA-JEPA","step":63000,"loss":0.022},{"model":"VLA-JEPA","step":65000,"loss":0.032},
      {"model":"VLA-JEPA","step":67000,"loss":0.019},{"model":"VLA-JEPA","step":69000,"loss":0.011},{"model":"VLA-JEPA","step":71000,"loss":0.026},{"model":"VLA-JEPA","step":73000,"loss":0.018},{"model":"VLA-JEPA","step":75000,"loss":0.012},{"model":"VLA-JEPA","step":77000,"loss":0.031},{"model":"VLA-JEPA","step":79000,"loss":0.017},{"model":"VLA-JEPA","step":81000,"loss":0.025},{"model":"VLA-JEPA","step":83000,"loss":0.011},{"model":"VLA-JEPA","step":85000,"loss":0.022},
      {"model":"VLA-JEPA","step":87000,"loss":0.027},{"model":"VLA-JEPA","step":89000,"loss":0.016},{"model":"VLA-JEPA","step":91000,"loss":0.01},{"model":"VLA-JEPA","step":93000,"loss":0.021},{"model":"VLA-JEPA","step":95000,"loss":0.017},{"model":"VLA-JEPA","step":97000,"loss":0.028},{"model":"VLA-JEPA","step":99000,"loss":0.012},{"model":"VLA-JEPA","step":101000,"loss":0.016},{"model":"VLA-JEPA","step":103000,"loss":0.025},{"model":"VLA-JEPA","step":105000,"loss":0.009},
      {"model":"VLA-JEPA","step":107000,"loss":0.019},{"model":"VLA-JEPA","step":109000,"loss":0.022},{"model":"VLA-JEPA","step":111000,"loss":0.012},{"model":"VLA-JEPA","step":113000,"loss":0.008},{"model":"VLA-JEPA","step":115000,"loss":0.02},{"model":"VLA-JEPA","step":117000,"loss":0.015},{"model":"VLA-JEPA","step":119000,"loss":0.026},{"model":"VLA-JEPA","step":121000,"loss":0.011},{"model":"VLA-JEPA","step":123000,"loss":0.016},{"model":"VLA-JEPA","step":125000,"loss":0.021},
      {"model":"VLA-JEPA","step":127000,"loss":0.008},{"model":"VLA-JEPA","step":129000,"loss":0.018},{"model":"VLA-JEPA","step":131000,"loss":0.024},{"model":"VLA-JEPA","step":133000,"loss":0.012},{"model":"VLA-JEPA","step":135000,"loss":0.007},{"model":"VLA-JEPA","step":137000,"loss":0.017},{"model":"VLA-JEPA","step":139000,"loss":0.02},{"model":"VLA-JEPA","step":141000,"loss":0.009},{"model":"VLA-JEPA","step":143000,"loss":0.014},{"model":"VLA-JEPA","step":145000,"loss":0.023},
      {"model":"VLA-JEPA","step":147000,"loss":0.011},{"model":"VLA-JEPA","step":149000,"loss":0.016},{"model":"VLA-JEPA","step":151000,"loss":0.007},{"model":"VLA-JEPA","step":153000,"loss":0.02},{"model":"VLA-JEPA","step":155000,"loss":0.012},{"model":"VLA-JEPA","step":157000,"loss":0.017},{"model":"VLA-JEPA","step":159000,"loss":0.021},{"model":"VLA-JEPA","step":161000,"loss":0.006},{"model":"VLA-JEPA","step":163000,"loss":0.015},{"model":"VLA-JEPA","step":165000,"loss":0.011},
      {"model":"VLA-JEPA","step":167000,"loss":0.019},{"model":"VLA-JEPA","step":169000,"loss":0.008},{"model":"VLA-JEPA","step":171000,"loss":0.024},{"model":"VLA-JEPA","step":173000,"loss":0.013},{"model":"VLA-JEPA","step":175000,"loss":0.007},{"model":"VLA-JEPA","step":177000,"loss":0.017},{"model":"VLA-JEPA","step":179000,"loss":0.011},{"model":"VLA-JEPA","step":181000,"loss":0.015},{"model":"VLA-JEPA","step":183000,"loss":0.006},{"model":"VLA-JEPA","step":185000,"loss":0.019},
      {"model":"VLA-JEPA","step":187000,"loss":0.012},{"model":"VLA-JEPA","step":189000,"loss":0.009},{"model":"VLA-JEPA","step":191000,"loss":0.016},{"model":"VLA-JEPA","step":193000,"loss":0.005},{"model":"VLA-JEPA","step":195000,"loss":0.013},{"model":"VLA-JEPA","step":197000,"loss":0.018},{"model":"VLA-JEPA","step":199000,"loss":0.011},{"model":"VLA-JEPA","step":201000,"loss":0.016},{"model":"VLA-JEPA","step":203000,"loss":0.008},{"model":"VLA-JEPA","step":205000,"loss":0.02},
      {"model":"VLA-JEPA","step":207000,"loss":0.005},{"model":"VLA-JEPA","step":209000,"loss":0.013},{"model":"VLA-JEPA","step":211000,"loss":0.017},{"model":"VLA-JEPA","step":213000,"loss":0.006},{"model":"VLA-JEPA","step":215000,"loss":0.022},{"model":"VLA-JEPA","step":217000,"loss":0.012},{"model":"VLA-JEPA","step":219000,"loss":0.008},{"model":"VLA-JEPA","step":221000,"loss":0.015},{"model":"VLA-JEPA","step":223000,"loss":0.005},{"model":"VLA-JEPA","step":225000,"loss":0.018},
      {"model":"VLA-JEPA","step":227000,"loss":0.012},{"model":"VLA-JEPA","step":229000,"loss":0.006}
    ],
    "smooth": [
      {"model":"MolmoAct2","step":0,"loss":1.36},{"model":"MolmoAct2","step":300,"loss":1.3},{"model":"MolmoAct2","step":600,"loss":1.27},{"model":"MolmoAct2","step":900,"loss":1.245},{"model":"MolmoAct2","step":1200,"loss":1.22},{"model":"MolmoAct2","step":1500,"loss":1.19},{"model":"MolmoAct2","step":1770,"loss":1.165},{"model":"MolmoAct2","step":1900,"loss":1.1},{"model":"MolmoAct2","step":2050,"loss":1.047},{"model":"MolmoAct2","step":2400,"loss":1.01},
      {"model":"MolmoAct2","step":2900,"loss":0.992},{"model":"MolmoAct2","step":3500,"loss":0.965},{"model":"MolmoAct2","step":4300,"loss":0.937},{"model":"MolmoAct2","step":5000,"loss":0.915},{"model":"MolmoAct2","step":5500,"loss":0.905},{"model":"MolmoAct2","step":6200,"loss":0.88},{"model":"MolmoAct2","step":7200,"loss":0.857},{"model":"MolmoAct2","step":8000,"loss":0.852},{"model":"MolmoAct2","step":8600,"loss":0.845},{"model":"MolmoAct2","step":9500,"loss":0.839},
      {"model":"MolmoAct2","step":10000,"loss":0.83},{"model":"MolmoAct2","step":10600,"loss":0.826},{"model":"MolmoAct2","step":11200,"loss":0.83},{"model":"MolmoAct2","step":11700,"loss":0.817},{"model":"MolmoAct2","step":12500,"loss":0.812},{"model":"MolmoAct2","step":13200,"loss":0.81},{"model":"MolmoAct2","step":14000,"loss":0.802},{"model":"MolmoAct2","step":14600,"loss":0.796},{"model":"MolmoAct2","step":15200,"loss":0.797},{"model":"MolmoAct2","step":16000,"loss":0.803},
      {"model":"MolmoAct2","step":16900,"loss":0.808},{"model":"MolmoAct2","step":17500,"loss":0.802},{"model":"MolmoAct2","step":18000,"loss":0.799},{"model":"MolmoAct2","step":19000,"loss":0.8},{"model":"MolmoAct2","step":19500,"loss":0.797},{"model":"MolmoAct2","step":20000,"loss":0.797},

      {"model":"FastWAM","step":0,"loss":0.29},{"model":"FastWAM","step":170,"loss":0.287},{"model":"FastWAM","step":900,"loss":0.258},{"model":"FastWAM","step":1770,"loss":0.235},{"model":"FastWAM","step":2330,"loss":0.188},{"model":"FastWAM","step":3000,"loss":0.17},{"model":"FastWAM","step":4300,"loss":0.152},{"model":"FastWAM","step":5500,"loss":0.143},{"model":"FastWAM","step":7200,"loss":0.135},{"model":"FastWAM","step":10000,"loss":0.126},
      {"model":"FastWAM","step":12500,"loss":0.12},{"model":"FastWAM","step":15200,"loss":0.115},{"model":"FastWAM","step":19800,"loss":0.108},{"model":"FastWAM","step":22000,"loss":0.104},{"model":"FastWAM","step":26000,"loss":0.101},{"model":"FastWAM","step":30000,"loss":0.098},{"model":"FastWAM","step":35000,"loss":0.096},{"model":"FastWAM","step":39800,"loss":0.094},{"model":"FastWAM","step":45000,"loss":0.091},{"model":"FastWAM","step":49500,"loss":0.089},
      {"model":"FastWAM","step":55000,"loss":0.087},{"model":"FastWAM","step":61000,"loss":0.0847},{"model":"FastWAM","step":69700,"loss":0.081},{"model":"FastWAM","step":81300,"loss":0.078},{"model":"FastWAM","step":92100,"loss":0.075},{"model":"FastWAM","step":103600,"loss":0.073},{"model":"FastWAM","step":114000,"loss":0.0715},{"model":"FastWAM","step":124000,"loss":0.07},{"model":"FastWAM","step":132000,"loss":0.069},{"model":"FastWAM","step":138900,"loss":0.068},
      {"model":"FastWAM","step":148000,"loss":0.067},{"model":"FastWAM","step":157100,"loss":0.066},{"model":"FastWAM","step":164600,"loss":0.065},

      {"model":"GR00T N1.7","step":0,"loss":0.131},{"model":"GR00T N1.7","step":900,"loss":0.108},{"model":"GR00T N1.7","step":1500,"loss":0.09},{"model":"GR00T N1.7","step":1770,"loss":0.077},{"model":"GR00T N1.7","step":2050,"loss":0.034},{"model":"GR00T N1.7","step":3200,"loss":0.025},{"model":"GR00T N1.7","step":4500,"loss":0.022},{"model":"GR00T N1.7","step":6600,"loss":0.019},{"model":"GR00T N1.7","step":10000,"loss":0.015},{"model":"GR00T N1.7","step":15200,"loss":0.011},
      {"model":"GR00T N1.7","step":20000,"loss":0.009},{"model":"GR00T N1.7","step":26600,"loss":0.006},{"model":"GR00T N1.7","step":32000,"loss":0.004},{"model":"GR00T N1.7","step":39000,"loss":0.002},{"model":"GR00T N1.7","step":45000,"loss":0.0015},{"model":"GR00T N1.7","step":50000,"loss":0.001},{"model":"GR00T N1.7","step":58000,"loss":0.001},

      {"model":"VLA-JEPA","step":0,"loss":1.5},{"model":"VLA-JEPA","step":100,"loss":0.45},{"model":"VLA-JEPA","step":340,"loss":0.38},{"model":"VLA-JEPA","step":800,"loss":0.33},{"model":"VLA-JEPA","step":1200,"loss":0.29},{"model":"VLA-JEPA","step":1770,"loss":0.258},{"model":"VLA-JEPA","step":2050,"loss":0.21},{"model":"VLA-JEPA","step":2300,"loss":0.14},{"model":"VLA-JEPA","step":2500,"loss":0.089},{"model":"VLA-JEPA","step":3200,"loss":0.053},
      {"model":"VLA-JEPA","step":4000,"loss":0.045},{"model":"VLA-JEPA","step":5500,"loss":0.037},{"model":"VLA-JEPA","step":7500,"loss":0.03},{"model":"VLA-JEPA","step":10000,"loss":0.025},{"model":"VLA-JEPA","step":15000,"loss":0.022},{"model":"VLA-JEPA","step":21000,"loss":0.019},{"model":"VLA-JEPA","step":32000,"loss":0.016},{"model":"VLA-JEPA","step":49500,"loss":0.013},{"model":"VLA-JEPA","step":64000,"loss":0.0115},{"model":"VLA-JEPA","step":80000,"loss":0.0115},
      {"model":"VLA-JEPA","step":95000,"loss":0.0105},{"model":"VLA-JEPA","step":110000,"loss":0.0095},{"model":"VLA-JEPA","step":130000,"loss":0.0088},{"model":"VLA-JEPA","step":150000,"loss":0.0085},{"model":"VLA-JEPA","step":165000,"loss":0.0085},{"model":"VLA-JEPA","step":175000,"loss":0.0072},{"model":"VLA-JEPA","step":200000,"loss":0.0065},{"model":"VLA-JEPA","step":230000,"loss":0.0062}
    ]
  },
  "encoding": {
    "x": {
      "field": "step",
      "type": "quantitative",
      "scale": {"domain": [0, 230500], "nice": false, "zero": false},
      "axis": {
        "values": [10000,20000,30000,40000,50000,60000,70000,80000,90000,100000,110000,120000,130000,140000,150000,160000,170000,180000,190000,200000,210000,220000,230000],
        "labelExpr": "(datum.value / 1000) + 'k'",
        "labelFontSize": 17.5,
        "labelColor": "#7a7f8a",
        "labelPadding": 8,
        "labelFlush": false,
        "tickSize": 5,
        "tickColor": "#d0d0d0",
        "domainColor": "#d0d0d0",
        "grid": false,
        "title": "Step",
        "titleFontSize": 17,
        "titleFontWeight": "normal",
        "titleColor": "#6e7079",
        "titleAnchor": "end",
        "titleAlign": "right",
        "titleBaseline": "alphabetic",
        "titleX": 1349,
        "titleY": -10
      }
    },
    "color": {
      "field": "model",
      "type": "nominal",
      "scale": {
        "domain": ["MolmoAct2", "FastWAM", "GR00T N1.7", "VLA-JEPA"],
        "range": ["#e0884a", "#ef5a5f", "#f3a61f", "#d652d8"]
      },
      "legend": {
        "orient": "none",
        "legendX": 179,
        "legendY": -83,
        "direction": "horizontal",
        "title": null,
        "symbolType": "M-1,-0.15L1,-0.15L1,0.15L-1,0.15Z M0.26,0 A0.26,0.26 0 1,1 -0.26,0 A0.26,0.26 0 1,1 0.26,0 Z",
        "symbolSize": 2209,
        "symbolOpacity": 1,
        "symbolStrokeWidth": 0,
        "labelFont": "DejaVu Sans",
        "labelFontSize": 25,
        "labelFontWeight": "bold",
        "labelColor": "#333333",
        "labelOffset": 11,
        "columnPadding": 47,
        "labelLimit": 400,
        "encode": {
          "symbols": {
            "update": {
              "fill": {"scale": "color", "field": "value"},
              "stroke": {"value": "transparent"},
              "strokeWidth": {"value": 0},
              "opacity": {"value": 1}
            }
          }
        }
      }
    }
  },
  "layer": [
    {
      "data": {"name": "band"},
      "mark": {"type": "area", "clip": true, "opacity": 0.22},
      "encoding": {
        "y": {
          "field": "lo",
          "type": "quantitative",
          "scale": {"domain": [0, 1.3], "nice": false, "zero": true},
          "axis": {
            "values": [0.1,0.2,0.3,0.4,0.5,0.6,0.7,0.8,0.9,1,1.1,1.2,1.3],
            "labelExpr": "datum.value == 1 ? '1' : format(datum.value, '.1f')",
            "labelFontSize": 17.5,
            "labelColor": "#7a7f8a",
            "labelPadding": 14,
            "ticks": false,
            "domainColor": "#d0d0d0",
            "grid": true,
            "gridColor": "#e2e2e2",
            "title": null
          }
        },
        "y2": {"field": "hi"}
      }
    },
    {
      "data": {"name": "raw"},
      "mark": {"type": "line", "clip": true, "strokeWidth": 1.5, "opacity": 0.45},
      "encoding": {
        "y": {"field": "loss", "type": "quantitative"}
      }
    },
    {
      "data": {"name": "smooth"},
      "mark": {"type": "line", "clip": true, "strokeWidth": 2, "opacity": 1},
      "encoding": {
        "y": {"field": "loss", "type": "quantitative"}
      }
    }
  ]
}
